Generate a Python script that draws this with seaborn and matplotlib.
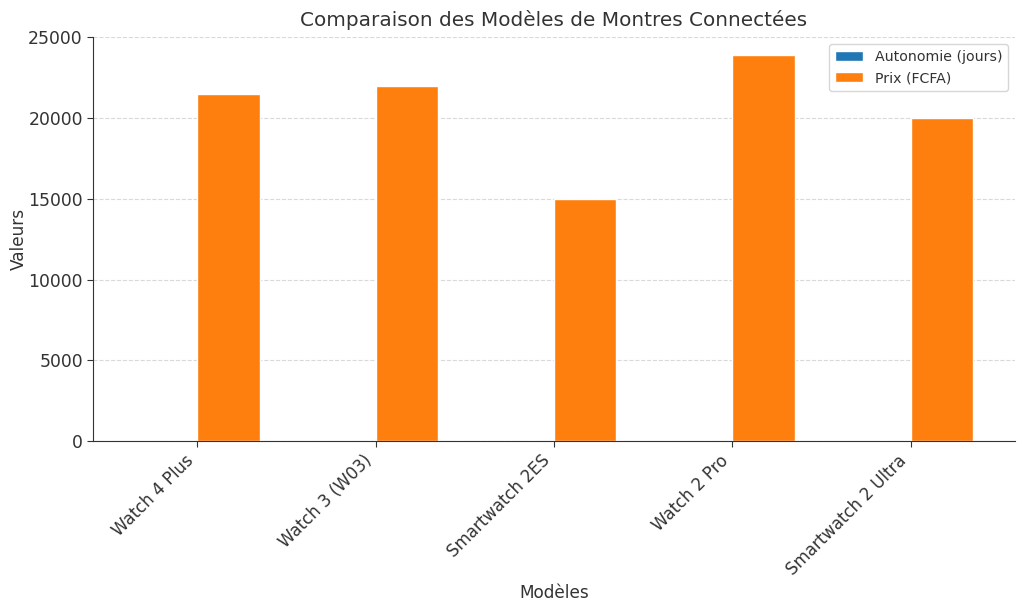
import pandas as pd
import matplotlib
matplotlib.use('Agg')
import matplotlib.pyplot as plt
import seaborn as sns

# données
modeles = ['Watch 4 Plus', 'Watch 3 (W03)', 'Smartwatch 2ES', 'Watch 2 Pro', 'Smartwatch 2 Ultra']
autonomie = [7, 5, 3, 10, 7]          # trop petit pour être visible
prix = [21500, 22000, 15000, 23900, 20000]
series = ['Autonomie (jours)', 'Prix (FCFA)']
couleurs = ['#1f77b4', '#ff7f0e']

data = pd.DataFrame({
    'Modèles': modeles * 2,
    'Valeurs': autonomie + prix,
    'Série': [series[0]] * len(modeles) + [series[1]] * len(modeles),
})

sns.set_style('whitegrid', {
    'grid.linestyle': '--',
    'grid.color': '#d9d9d9',
    'axes.edgecolor': '#333333',
    'xtick.bottom': True,
    'ytick.left': True,
})
plt.rcParams['font.family'] = ['DejaVu Sans']
plt.rcParams['text.color'] = '#333333'
plt.rcParams['axes.labelcolor'] = '#333333'
plt.rcParams['xtick.color'] = '#333333'
plt.rcParams['ytick.color'] = '#333333'

fig, ax = plt.subplots(figsize=(10.24, 6.11), dpi=100)
fig.subplots_adjust(left=0.091, right=0.991, top=0.939, bottom=0.278)

sns.barplot(data=data, x='Modèles', y='Valeurs', hue='Série', palette=couleurs,
            width=0.7, gap=0, saturation=1, ax=ax)

ax.set_xlim(-0.585, len(modeles) - 1 + 0.585)
ax.set_ylim(0, 25000)
ax.set_title('Comparaison des Modèles de Montres Connectées', fontsize=14.4,
             color='#333333', pad=8)
ax.set_xlabel('Modèles', fontsize=12.2)
ax.set_ylabel('Valeurs', fontsize=12.2)
ax.yaxis.set_label_coords(-0.071, 0.5)
plt.setp(ax.get_xticklabels(), rotation=45, ha='right', fontsize=12)
ax.tick_params(axis='y', labelsize=12.4)
ax.tick_params(length=4, width=0.8)
for side in ['top', 'right']:
    ax.spines[side].set_visible(False)
ax.set_axisbelow(True)

leg = ax.legend(title=None, loc='upper right', fontsize=10.2, frameon=True)
leg.get_frame().set_edgecolor('#cccccc')

plt.savefig('out.png', dpi=100)
